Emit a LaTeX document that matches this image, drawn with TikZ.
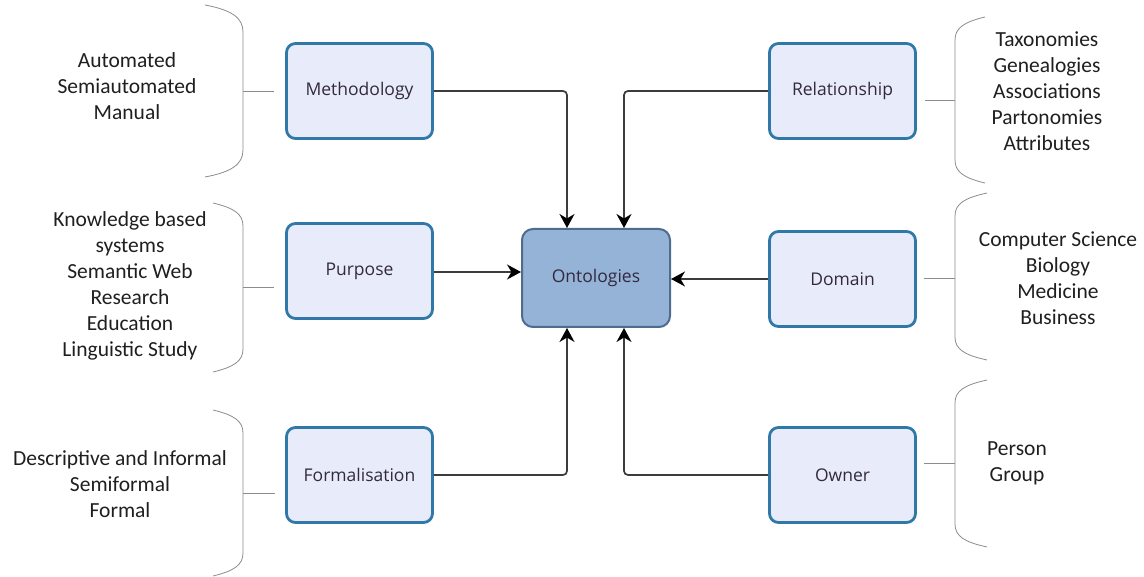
\documentclass[tikz,border=0pt]{standalone}
\usepackage{fontspec}
\setmainfont{Carlito}
\newfontfamily\boxfont{Open Sans}
\usetikzlibrary{arrows.meta,calc}
\definecolor{boxfill}{HTML}{E8EBFA}
\definecolor{boxline}{HTML}{2F78A8}
\definecolor{ontofill}{HTML}{95B3D7}
\definecolor{ontoline}{HTML}{4F6B8E}
\definecolor{bracecol}{HTML}{8C8C8C}
\definecolor{arrowcol}{HTML}{3C3C3C}
\definecolor{labelcol}{HTML}{33293F}
\tikzset{
  catbox/.style={draw=boxline, fill=boxfill, line width=2.8pt, rounded corners=9pt,
    minimum width=146pt, minimum height=95pt, inner sep=0pt,
    font=\boxfont\fontsize{17.5}{20}\selectfont, text=labelcol},
  ontobox/.style={draw=ontoline, fill=ontofill, line width=2pt, rounded corners=11pt,
    minimum width=148pt, minimum height=98pt, inner sep=0pt,
    font=\boxfont\fontsize{17.5}{20}\selectfont, text=labelcol},
  brace/.style={draw=bracecol, line width=0.8pt},
  list/.style={align=center, font=\fontsize{21.5}{26}\selectfont, text=black!88, inner sep=0pt},
  conn/.style={draw=arrowcol, line width=1.7pt, rounded corners=4pt,
    -{Stealth[length=14pt,width=15pt,inset=4.5pt,black]}},
}
\begin{document}
\begin{tikzpicture}[x=1pt,y=-1pt]
\useasboundingbox (0,0) rectangle (1144,577);
% boxes
\node[catbox] (meth) at (359.5,91) {Methodology};
\node[catbox] (purp) at (359.5,271) {Purpose};
\node[catbox] (form) at (359.5,475) {Formalisation};
\node[catbox] (rel) at (842.5,91) {Relationship};
\node[catbox] (dom) at (842.5,279) {Domain};
\node[catbox] (own) at (842.5,475) {Owner};
\node[ontobox] (onto) at (596,278) {Ontologies};
% connectors
\coordinate (cl) at (567,0);
\coordinate (cr) at (624,0);
\draw[conn] (meth.east) -| (onto.north -| cl);
\draw[conn] (rel.west) -| (onto.north -| cr);
\draw[conn] (form.east) -| (onto.south -| cl);
\draw[conn] (own.west) -| (onto.south -| cr);
\draw[conn, rounded corners=0pt] (purp.east |- 0,272) -- (onto.west |- 0,272);
\draw[conn, rounded corners=0pt] (dom.west) -- (onto.east |- dom.west);
% left braces
\coordinate (bm) at (274,91);
\draw[brace] (205,5) .. controls (232,10) and (243,18) .. (243,32) -- (243,150) .. controls (243,164) and (232,172) .. (205,177);
\draw[brace] (243,91) -- (bm);
\coordinate (bp) at (274,287);
\draw[brace] (213,203) .. controls (234,208) and (243,214) .. (243,226) -- (243,349) .. controls (243,361) and (234,367) .. (213,372);
\draw[brace] (243,287) -- (bp);
\coordinate (bf) at (275,493);
\draw[brace] (213,410) .. controls (234,415) and (243,421) .. (243,433) -- (243,553) .. controls (243,565) and (234,571) .. (213,576);
\draw[brace] (243,493) -- (bf);
% right braces
\coordinate (br) at (925,100);
\draw[brace] (985,17) .. controls (964,22) and (955,28) .. (955,40) -- (955,160) .. controls (955,172) and (964,178) .. (985,183);
\draw[brace] (955,100) -- (br);
\coordinate (bd) at (924,278);
\draw[brace] (987,193) .. controls (964,198) and (955,204) .. (955,216) -- (955,337) .. controls (955,349) and (964,355) .. (987,360);
\draw[brace] (955,278) -- (bd);
\coordinate (bo) at (924,463);
\draw[brace] (987,380) .. controls (964,385) and (955,391) .. (955,403) -- (955,524) .. controls (955,536) and (964,542) .. (987,547);
\draw[brace] (955,463) -- (bo);
% lists
\node[list] (lm) at (127,86) {Automated\\Semiautomated\\Manual};
\node[list] (lp) at (130,286) {Knowledge based\\systems\\Semantic Web\\Research\\Education\\Linguistic Study};
\node[list] (lf) at (120,484) {Descriptive and Informal\\Semiformal\\Formal};
\node[list] (lr) at (1047,91) {Taxonomies\\Genealogies\\Associations\\Partonomies\\Attributes};
\node[list] (ld) at (1058,278) {Computer Science\\Biology\\Medicine\\Business};
\node[list] (lo) at (1017,463) {Person\\Group};
\end{tikzpicture}
\end{document}
